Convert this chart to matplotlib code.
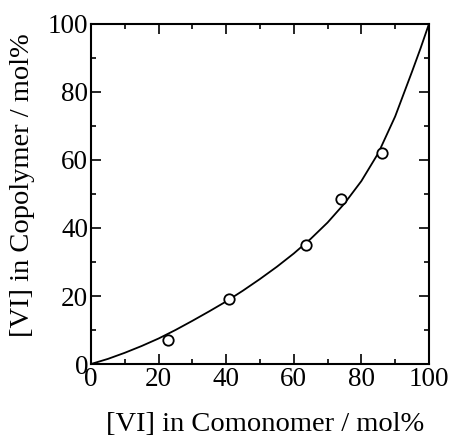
import numpy as np
import matplotlib
matplotlib.use("Agg")
import matplotlib.pyplot as plt
from matplotlib.ticker import MultipleLocator

plt.rcParams['font.family'] = ['Liberation Serif', 'DejaVu Serif']

# measured points: VI in comonomer feed vs VI in copolymer (mol%)
feed_pts = [22.7, 40.8, 63.6, 73.9, 86.0]
copo_pts = [7.0, 19.0, 34.9, 48.4, 62.0]

# fitted curve
curve_x = [0, 5, 10, 15, 20, 25, 30, 35, 40, 45, 50, 55, 60, 65, 70, 75, 80, 85, 90, 95, 97.5, 100]
curve_y = [0, 1.5, 3.3, 5.3, 7.5, 10.0, 12.7, 15.5, 18.4, 21.6, 25.0, 28.6, 32.5, 36.8, 41.6, 47.2, 53.8, 62.0, 72.8, 86.0, 92.8, 100]

fig = plt.figure(figsize=(4.52, 4.40), dpi=100)
ax = fig.add_axes([0.2013, 0.1727, 0.7477, 0.7728])

ax.plot(curve_x, curve_y, color='black', lw=1.3)
ax.plot(feed_pts, copo_pts, 'o', mfc='white', mec='black', ms=7.5, mew=1.3)

ax.set_xlim(0, 100)
ax.set_ylim(0, 100)
ax.xaxis.set_major_locator(MultipleLocator(20))
ax.xaxis.set_minor_locator(MultipleLocator(10))
ax.yaxis.set_major_locator(MultipleLocator(20))
ax.yaxis.set_minor_locator(MultipleLocator(10))
ax.tick_params(which='both', direction='in', top=True, right=True, width=1.2)
ax.tick_params(which='major', length=7, labelsize=19.5, pad=2)
ax.tick_params(which='minor', length=3.5)
for s in ax.spines.values():
    s.set_linewidth(1.5)

ax.set_xlabel('[VI] in Comonomer / mol%', fontsize=20.5)
ax.set_ylabel('[VI] in Copolymer / mol%', fontsize=20.5)
ax.xaxis.set_label_coords(0.515, -0.14)
ax.yaxis.set_label_coords(-0.166, 0.526)

fig.savefig('out.png', dpi=100)
